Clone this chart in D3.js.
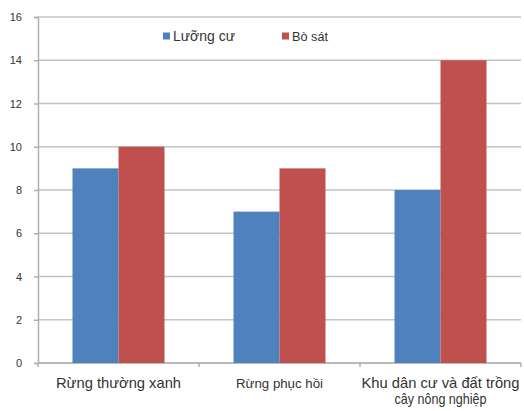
<!DOCTYPE html>
<html>
<head>
<meta charset="utf-8">
<script src="https://cdn.jsdelivr.net/npm/d3@7"></script>
<style>
  html, body { margin: 0; padding: 0; background: #fff; }
  svg { display: block; }
  text { font-family: "Liberation Sans", Arial, sans-serif; fill: #333; }
</style>
</head>
<body>
<svg id="chart" width="524" height="411"></svg>
<script>
// Habitat groups and species counts
const categories = ["Rừng thường xanh", "Rừng phục hồi", "Khu dân cư và đất trồng cây nông nghiệp"];
const categoryLines = [["Rừng thường xanh"], ["Rừng phục hồi"], ["Khu dân cư và đất trồng", "cây nông nghiệp"]];
const seriesNames = ["Lưỡng cư", "Bò sát"];
const luongCu = [9, 7, 8];
const boSat = [10, 9, 14];
const yTicks = [0, 2, 4, 6, 8, 10, 12, 14, 16];
const colors = ["#4F81BD", "#C0504D"];

const svg = d3.select("#chart");
const margin = { left: 38, right: 3, top: 17, bottom: 48 };
const W = 524, H = 411;

const x = d3.scaleBand()
  .domain(categories)
  .range([margin.left, W - margin.right])
  .paddingInner(0)
  .paddingOuter(0);

const xs = d3.scaleBand()
  .domain(seriesNames)
  .range([0, x.bandwidth()])
  .paddingInner(0)
  .paddingOuter(0.75);

const y = d3.scaleLinear()
  .domain([0, 16])
  .range([H - margin.bottom, margin.top]);

// Horizontal gridlines
svg.append("g")
  .selectAll("line")
  .data(yTicks)
  .join("line")
  .attr("x1", margin.left)
  .attr("x2", W - margin.right)
  .attr("y1", d => y(d))
  .attr("y2", d => y(d))
  .attr("stroke", "#c4c4c4")
  .attr("stroke-width", 1.5);

// Y axis
const yAxis = svg.append("g")
  .attr("transform", `translate(${margin.left},0)`)
  .call(d3.axisLeft(y).tickValues(yTicks).tickSize(4).tickPadding(12));
yAxis.select(".domain").attr("stroke", "#b0b0b0").attr("stroke-width", 1.5);
yAxis.selectAll(".tick line").attr("stroke", "#b0b0b0").attr("stroke-width", 1.5);
yAxis.selectAll(".tick text")
  .attr("font-size", 11)
  .attr("fill", "#333")
  .style("font-family", "'Liberation Sans', Arial, sans-serif");

// X axis line and category boundary ticks
svg.append("line")
  .attr("x1", margin.left).attr("x2", W - margin.right)
  .attr("y1", y(0)).attr("y2", y(0))
  .attr("stroke", "#b0b0b0").attr("stroke-width", 1.5);
const bounds = categories.map(c => x(c)).concat([x(categories[categories.length - 1]) + x.bandwidth()]);
svg.append("g").selectAll("line")
  .data(bounds)
  .join("line")
  .attr("x1", d => d).attr("x2", d => d)
  .attr("y1", y(0)).attr("y2", y(0) + 4)
  .attr("stroke", "#b0b0b0").attr("stroke-width", 1.5);

// Bars
const rows = categories.map((c, i) => ({ cat: c, vals: [luongCu[i], boSat[i]] }));
const groups = svg.append("g")
  .selectAll("g")
  .data(rows)
  .join("g")
  .attr("transform", d => `translate(${x(d.cat)},0)`);
groups.selectAll("rect")
  .data(d => d.vals.map((v, j) => ({ name: seriesNames[j], v, j })))
  .join("rect")
  .attr("x", d => xs(d.name))
  .attr("width", xs.bandwidth())
  .attr("y", d => y(d.v))
  .attr("height", d => y(0) - y(d.v))
  .attr("fill", d => colors[d.j]);

// Category labels
const labelSizes = [14.5, 12, 14.5];
const labelLengths = [[125], [87], [158, 92]];
svg.append("g")
  .selectAll("text")
  .data(categories)
  .join("text")
  .attr("y", y(0) + 25)
  .attr("text-anchor", "middle")
  .attr("font-size", (d, i) => labelSizes[i])
  .each(function (d, i) {
    const t = d3.select(this);
    categoryLines[i].forEach((line, k) => {
      t.append("tspan")
        .attr("x", x(d) + x.bandwidth() / 2)
        .attr("dy", k === 0 ? 0 : 16)
        .attr("textLength", labelLengths[i][k])
        .attr("lengthAdjust", "spacingAndGlyphs")
        .text(line);
    });
  });

// Legend
const legendItems = [
  { name: seriesNames[0], color: colors[0], x: 163, size: 14, len: 62 },
  { name: seriesNames[1], color: colors[1], x: 282, size: 12, len: 36 }
];
const legend = svg.append("g");
legendItems.forEach(it => {
  legend.append("rect")
    .attr("x", it.x).attr("y", 32.5)
    .attr("width", 7).attr("height", 7)
    .attr("fill", it.color);
  legend.append("text")
    .attr("x", it.x + 10).attr("y", 41)
    .attr("font-size", it.size)
    .attr("textLength", it.len)
    .attr("lengthAdjust", "spacingAndGlyphs")
    .text(it.name);
});
</script>
</body>
</html>
